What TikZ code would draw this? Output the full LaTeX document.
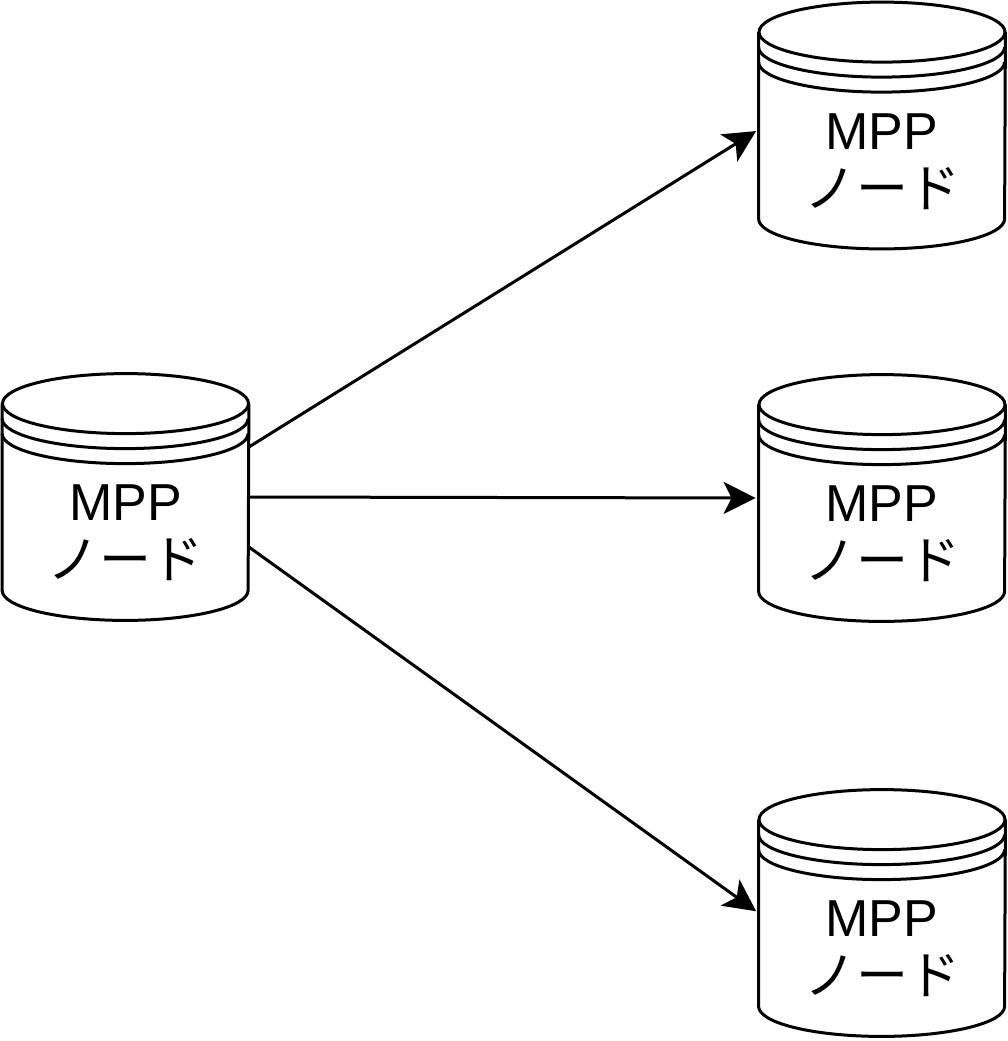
\documentclass[tikz,border=0pt]{standalone}
\usepackage{fontspec}
\setmainfont{Liberation Sans}
\newfontfamily\cjk{Noto Sans CJK JP}
\usetikzlibrary{arrows.meta}

% cylinder: name, x, y of body centre
\newcommand{\mppcyl}[3]{
  \node[cylbox] (#1) at (#2,#3) {};
  \fill[white] (#1.north west) arc[start angle=180,end angle=0,x radius=61.5pt,y radius=15pt]
    -- (#1.south east) arc[start angle=0,end angle=-180,x radius=61.5pt,y radius=15pt] -- cycle;
  \draw[cylline] (#1.north west) -- (#1.south west)
    arc[start angle=180,end angle=360,x radius=61.5pt,y radius=15pt] -- (#1.north east);
  \draw[cylline] (#1.north) ellipse[x radius=61.5pt,y radius=15pt];
  \draw[cylline] ([yshift=-7.5pt]#1.north west) arc[start angle=180,end angle=360,x radius=61.5pt,y radius=15pt];
  \draw[cylline] ([yshift=-15pt]#1.north west) arc[start angle=180,end angle=360,x radius=61.5pt,y radius=15pt];
  \node[cyltext] at ([yshift=-18pt]#1.center) {MPP\\{\cjk ノード}};
}

\begin{document}
\begin{tikzpicture}[x=0.5pt,y=-0.5pt,
  cylbox/.style={rectangle, minimum width=123pt, minimum height=93pt, inner sep=0pt},
  cylline/.style={line width=1.5pt},
  cyltext/.style={align=center, font=\fontsize{26}{29}\selectfont},
  conn/.style={line width=1.5pt, shorten >=1.5pt, -{Stealth[length=16pt,width=16pt,inset=4pt]}}]
  \useasboundingbox (0,0) rectangle (1008,1041);
  % source
  \mppcyl{src}{125.5}{497}
  % targets
  \mppcyl{t1}{882}{125.5}
  \mppcyl{t2}{882}{498}
  \mppcyl{t3}{882}{913}
  % links
  \draw[conn] ([yshift=25pt]src.east) -- ([yshift=-2pt]t1.west);
  \draw[conn] (src.east) -- (t2.west);
  \draw[conn] ([yshift=-25pt]src.east) -- (t3.west);
\end{tikzpicture}
\end{document}
